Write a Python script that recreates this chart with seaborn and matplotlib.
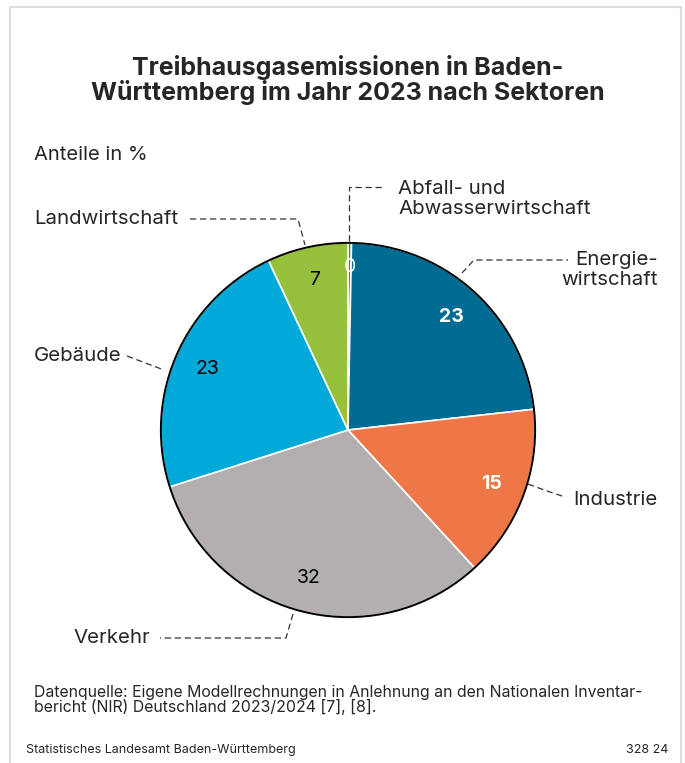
import numpy as np
import pandas as pd
import matplotlib.pyplot as plt
import seaborn as sns
from matplotlib.patches import Circle

# data
sectors = ["Abfall- und\nAbwasserwirtschaft", "Energie-\nwirtschaft", "Industrie",
           "Verkehr", "Gebäude", "Landwirtschaft"]
shares = [0.3, 23, 15, 32, 23, 7]
share_labels = ["0", "23", "15", "32", "23", "7"]
colors = ["#3d8a3a", "#006c94", "#ef7647", "#b3afb0", "#00a9d8", "#97c13c"]
label_colors = ["white", "white", "white", "black", "black", "black"]
label_bold = [False, True, True, False, False, False]

sns.set_theme(style="white")
plt.rcParams["font.family"] = ["Inter", "DejaVu Sans"]

W, H = 685, 763
fig = plt.figure(figsize=(W / 100, H / 100), dpi=100)

# overlay axes in pixel units for texts, frame and leader lines
bg = fig.add_axes([0, 0, 1, 1])
bg.set_xlim(0, W)
bg.set_ylim(H, 0)
bg.axis("off")

# frame
bg.plot([10, 10, 681, 681], [H + 5, 7, 7, H + 5], color="#dcdcdc", lw=1.5)

bg.text(348, 80, "Treibhausgasemissionen in Baden-\nWürttemberg im Jahr 2023 nach Sektoren",
        ha="center", va="center", fontsize=18, fontweight="bold", linespacing=1.0)
bg.text(34, 155, "Anteile in %", ha="left", va="center", fontsize=14.5)

# pie
cx, cy, r = 348, 430, 189
pie_ax = fig.add_axes([(cx - r) / W, (H - cy - r) / H, 2 * r / W, 2 * r / H])
wedges, texts = pie_ax.pie(shares, labels=share_labels, colors=colors, startangle=90,
                           counterclock=False, labeldistance=0.82,
                           wedgeprops=dict(edgecolor="white", linewidth=1.2))
for t, c, b in zip(texts, label_colors, label_bold):
    t.set_color(c)
    t.set_fontsize(14)
    t.set_ha("center")
    t.set_va("center")
    if b:
        t.set_fontweight("bold")
texts[0].set_position(np.array(texts[0].get_position()) * 0.87 / 0.82)
pie_ax.add_patch(Circle((0, 0), 1, fill=False, edgecolor="black", lw=1.4))
pie_ax.set_xlim(-1.01, 1.01)
pie_ax.set_ylim(-1.01, 1.01)
pie_ax.axis("off")

# leader lines and category labels
dash = dict(color="#333333", lw=0.9, linestyle=(0, (5, 3)))
lab = dict(fontsize=14.7, va="center", linespacing=1.12)
bg.plot([349, 349, 382], [241, 187, 187], **dash)
bg.text(398, 199, sectors[0], ha="left", **lab)

bg.plot([462, 474, 568], [273, 260, 260], **dash)
bg.text(658, 270, sectors[1], ha="right", **lab)

bg.plot([528, 547, 565], [484, 491, 497], **dash)
bg.text(573, 500, sectors[2], ha="left", **lab)

bg.plot([293, 286, 160], [614, 638, 638], **dash)
bg.text(150, 638, sectors[3], ha="right", **lab)

bg.plot([127, 164], [356, 370], **dash)
bg.text(34, 356, sectors[4], ha="left", **lab)

bg.plot([190, 298, 305], [219, 219, 245], **dash)
bg.text(34, 219, sectors[5], ha="left", **lab)

# footer
bg.text(34, 700, "Datenquelle: Eigene Modellrechnungen in Anlehnung an den Nationalen Inventar-\n"
        "bericht (NIR) Deutschland 2023/2024 [7], [8].",
        ha="left", va="center", fontsize=11.4, linespacing=0.88)
bg.text(26, 750, "Statistisches Landesamt Baden-Württemberg", ha="left", va="center", fontsize=9)
bg.text(668, 750, "328 24", ha="right", va="center", fontsize=9)

fig.savefig("out.png", dpi=100, facecolor="white")
